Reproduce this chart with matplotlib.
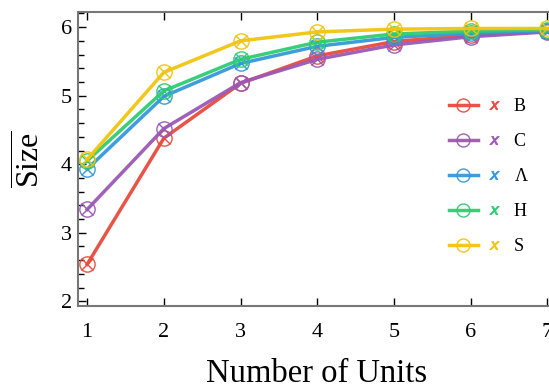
import matplotlib
matplotlib.use("Agg")
import matplotlib.pyplot as plt
from matplotlib.lines import Line2D
from matplotlib.legend_handler import HandlerTuple
from matplotlib.ticker import MultipleLocator

plt.rcParams['font.family'] = ['Liberation Serif', 'DejaVu Serif']
plt.rcParams['mathtext.fontset'] = 'custom'
plt.rcParams['mathtext.rm'] = 'Liberation Serif'

units = [1, 2, 3, 4, 5, 6, 7]
labels = ['B', 'C', r'$\Lambda$', 'H', 'S']
colors = ['#e74c3c', '#9b59b6', '#3498db', '#2ecc71', '#f1c40f']

size_b = [2.54, 4.38, 5.18, 5.58, 5.79, 5.88, 5.94]
size_c = [3.34, 4.52, 5.19, 5.53, 5.74, 5.86, 5.93]
size_lam = [3.93, 4.99, 5.47, 5.72, 5.85, 5.91, 5.95]
size_h = [4.05, 5.07, 5.53, 5.78, 5.90, 5.94, 5.96]
size_s = [4.07, 5.34, 5.80, 5.93, 5.97, 5.98, 5.98]
series = [size_b, size_c, size_lam, size_h, size_s]

fig = plt.figure(figsize=(5.49, 3.88), dpi=100)
ax = fig.add_axes([0.142, 0.211, 0.869, 0.758])

handles = []
for vals, col, lab in zip(series, colors, labels):
    ln, = ax.plot(units, vals, '-', color=col, lw=2.5, marker='o', ms=11,
                  mfc='none', mec=col, mew=1.0, alpha=0.95)
    ax.plot(units, vals, 'x', color=col, ms=8, mew=1.0)
    hx = Line2D([], [], ls='none', marker='$x$', color=col, ms=8, mew=0.6)
    handles.append((ln, hx))

ax.set_xlim(0.88, 7.1)
ax.set_ylim(1.93, 6.22)
ax.yaxis.set_major_locator(MultipleLocator(1))
ax.yaxis.set_minor_locator(MultipleLocator(0.2))
ax.xaxis.set_major_locator(MultipleLocator(1))
ax.tick_params(which='both', direction='in', top=True, right=False, labelsize=16)
ax.tick_params(which='major', length=6, width=1)
ax.tick_params(which='minor', length=4, width=1)
ax.tick_params(axis='x', pad=12)
ax.tick_params(axis='y', pad=4.5)
for sp in ax.spines.values():
    sp.set_color('#777777')
    sp.set_linewidth(1.5)

ax.set_xlabel('Number of Units', fontsize=23.5, labelpad=12)
ax.set_ylabel(r'$\overline{\mathrm{Size}}$', fontsize=23, labelpad=10)

ax.legend(handles, labels, handler_map={tuple: HandlerTuple(ndivide=None, pad=0.1)},
          loc='upper left', bbox_to_anchor=(0.743, 0.763), frameon=False,
          fontsize=13, handlelength=3.3, handletextpad=0.3, labelspacing=1.0,
          markerscale=0.85)

fig.savefig('out.png', dpi=100)
